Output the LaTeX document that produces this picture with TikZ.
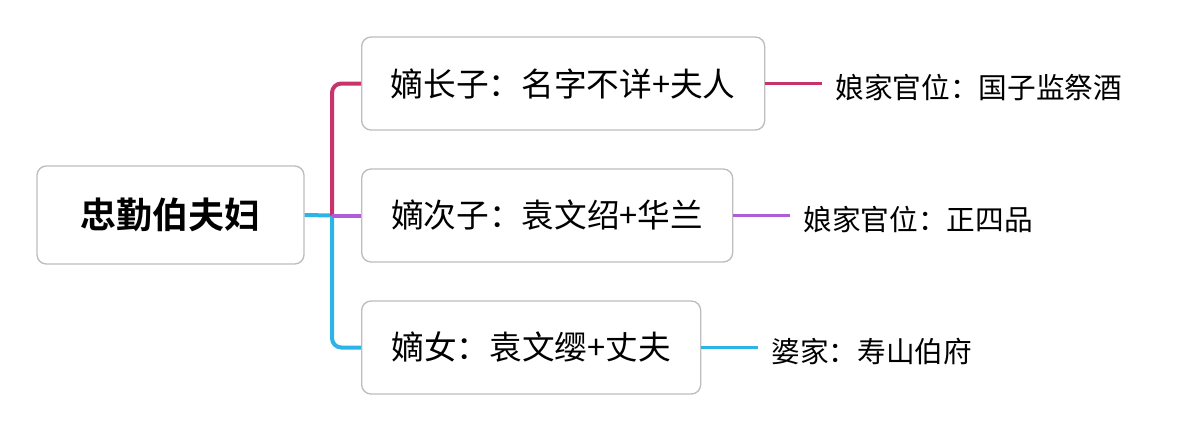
\documentclass[tikz,border=0pt]{standalone}
\usepackage{fontspec}
\usepackage{tikz}
\newfontfamily\cjk{Noto Sans CJK SC}
\newfontfamily\cjkbold{Noto Sans CJK SC Bold}
\definecolor{linkpink}{HTML}{C8336A}
\definecolor{linkpurple}{HTML}{B05CD6}
\definecolor{linkcyan}{HTML}{2DB4E6}
\definecolor{boxgray}{HTML}{BDBDBD}

\begin{document}
\begin{tikzpicture}[x = 0.75pt, y = -0.75pt, box/.style={draw = boxgray, line width = 1pt, rounded corners = 7pt, fill = white, inner sep = 0pt, font = \cjk\fontsize{24.5}{28}\selectfont}, leaf/.style={anchor = west, inner xsep = 10pt, inner ysep = 0pt, yshift = -3pt, font = \cjk\fontsize{21.5}{25}\selectfont}, link/.style={line width = 3pt, rounded corners = 7pt}]
	
	\useasboundingbox (0,0) rectangle (1200,432);
	
	\node[box, minimum width = 200.25pt, minimum height = 73.5pt, font = \cjkbold\fontsize{27}{31}\selectfont] (root) at (170.5,215) {忠勤伯夫妇};
	
	\node[box, anchor = west, minimum width = 302.25pt, minimum height = 69.75pt] (son1) at (361,83.5) {嫡长子：名字不详+夫人};
	\node[box, anchor = west, minimum width = 278.25pt, minimum height = 69.75pt] (son2) at (361,215.5) {嫡次子：袁文绍+华兰};
	\node[box, anchor = west, minimum width = 254.25pt, minimum height = 69.75pt] (girl) at (361,347.5) {嫡女：袁文缨+丈夫};
	
	\coordinate (fork) at (332,215.5);
	
	% trunk
	\draw[link, linkcyan] (root.east) -- (fork);
	\draw[link, linkcyan] (fork) |- (girl.west);
	\draw[link, linkpink] (fork) |- (son1.west);
	\draw[link, linkpurple] (fork) -- (son2.west);
	
	\node[leaf] (kin1) at (822,83.5) {娘家官位：国子监祭酒};
	\node[leaf] (kin2) at (790,215.5) {娘家官位：正四品};
	\node[leaf] (kin3) at (758,347.5) {婆家：寿山伯府};
	
	\draw[line width = 2.5pt, linkpink] (son1.east) -- (kin1.west |- son1.east);
	\draw[line width = 2.5pt, linkpurple] (son2.east) -- (kin2.west |- son2.east);
	\draw[line width = 2.5pt, linkcyan] (girl.east) -- (kin3.west |- girl.east);
	
\end{tikzpicture}
\end{document}
